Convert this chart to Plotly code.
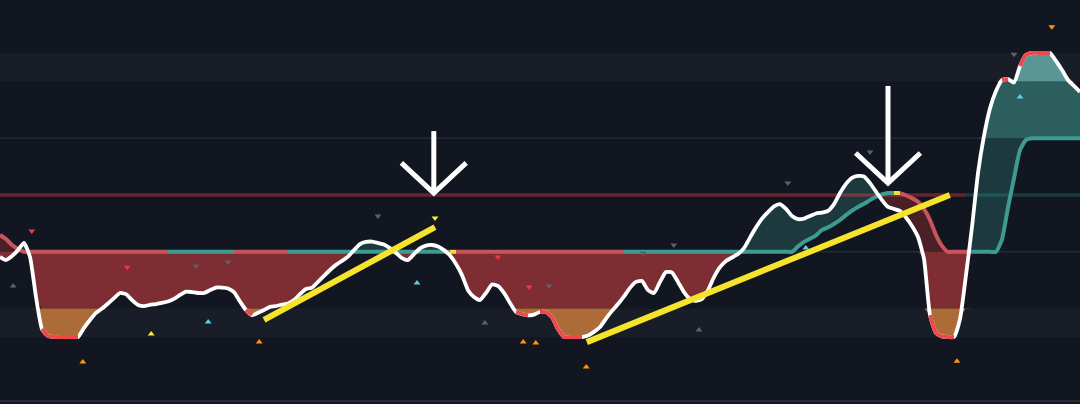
import numpy as np
import plotly.graph_objects as go

# ---------------- data ----------------
osc = [28.2, 27.1, 28.5, 30.6, 33.1, 28.2, 14.1, 2.8, 0.4, 0, 0, 0, 0, 0, 3.2, 6.0, 8.5, 10.0, 11.8, 13.7,
       15.5, 15.1, 13.0, 11.3, 10.9, 11.3, 11.6, 12.0, 12.5, 13.4, 14.8, 16.0, 15.8, 15.5, 15.5, 16.5, 17.4, 17.4, 17.1, 15.8,
       12.5, 9.5, 7.7, 8.5, 9.5, 10.6, 10.9, 11.4, 11.8, 13.0, 15.1, 16.9, 17.4, 19.4, 21.5, 23.6, 25.4, 26.8, 28.3, 30.6,
       32.7, 33.5, 33.6, 33.1, 32.6, 31.3, 29.6, 27.8, 27.1, 29.2, 31.2, 32.2, 32.4, 31.9, 30.6, 28.7, 25.7, 21.8, 16.5, 14.1,
       13.0, 15.5, 18.5, 18.0, 15.5, 12.0, 8.8, 8.1, 7.6, 7.9, 8.8, 8.8, 7.0, 2.8, 0, 0, 0, 0, 0.5, 1.8,
       3.5, 6.5, 9.2, 11.6, 14.3, 17.3, 19.4, 19.7, 16.5, 15.5, 19.4, 22.9, 22.7, 19.4, 15.8, 13.4, 12.7, 13.4, 16.5, 21.1,
       24.6, 26.8, 28.0, 29.2, 31.3, 35.0, 38.6, 41.7, 44.0, 46.0, 46.8, 45.1, 42.6, 41.5, 41.7, 42.6, 43.5, 43.8, 44.4, 46.8,
       50.7, 53.9, 56.0, 56.7, 56.5, 54.2, 51.2, 48.2, 45.8, 45.1, 44.4, 42.1, 39.1, 35.2, 27.5, 7.7, 1.4, 0.2, 0, 0,
       6.3, 21.8, 38.7, 57.7, 70.8, 80.5, 86.6, 90.5, 90.8, 89.6, 95.4, 99.3, 100, 100, 100, 100, 97.2, 94.0, 90.5, 88.4,
       86.3]

signal = [35.9, 34.5, 32.4, 31.0] + [30.0] * 129 + [
    31.9, 33.5, 34.6, 35.8, 37.7, 38.6, 39.8, 41.2, 42.9, 44.5, 45.8, 46.9, 48.2, 49.4, 50.2, 50.7, 50.7, 50.7,
    49.9, 48.9, 47.6, 45.1, 41.2, 35.9, 32.1] + [30.0] * 9 + [34.4, 45.6, 55.9, 65.8, 69.4] + [70.0] * 9

state_runs = [("bear", 29), ("bull", 11), ("bear", 9), ("bull", 27), ("neutral", 1),
              ("bear", 28), ("bull", 45), ("neutral", 1), ("bear", 12), ("bull", 18)]

mid_state_runs = [("bear", 161), ("bull", 20)]

level_ob_top, level_ob, level_up, level_mid, level_low, level_os, level_os_bot = 100, 90, 70, 50, 30, 10, 0

tri_x = [5.3, 2.2, 21.2, 32.7, 38.0, 34.7, 25.2, 13.8, 43.2, 63.0, 72.5, 69.5, 83.0, 88.2, 91.5, 80.8, 87.2, 89.3,
         97.7, 112.3, 116.5, 131.3, 145.0, 134.3, 159.5, 175.3, 169.0, 170.0, 107.2]
tri_y = [37.3, 18.0, 24.6, 25.0, 26.4, 5.3, 1.1, -8.8, -1.8, 42.6, 41.9, 19.0, 28.2, 17.6, 18.0, 4.9, -1.8, -2.1,
         -10.6, 32.4, 2.5, 54.2, 65.1, 31.3, -8.5, 109.2, 99.6, 84.5, 29.6]
tri_dir = ["dn", "up", "dn", "dn", "dn", "up", "up", "up", "up", "dn", "dn", "up", "dn", "dn", "dn", "up", "up", "up",
           "up", "dn", "up", "dn", "dn", "up", "up", "dn", "dn", "up", "dn"]
tri_kind = ["red", "grey", "red", "grey", "grey", "cyan", "yellow", "orange", "orange", "grey", "yellow", "cyan",
            "red", "red", "grey", "grey", "orange", "orange", "orange", "grey", "grey", "grey", "grey", "cyan",
            "orange", "orange", "grey", "cyan", "grey"]

trend1_x, trend1_y = [44.0, 72.5], [6.0, 38.7]
trend2_x, trend2_y = [97.8, 158.3], [-1.8, 50.0]

arrow_x = [72.3, 148.0]
arrow_top = [72.5, 88.4]
arrow_tip = [50.7, 54.2]

# ---------------- figure ----------------
BG = "#121620"
N = len(osc)
x = np.arange(N)
w = np.array(osc, float)
s = np.array(signal, float)
SM = 0.5  # spline smoothing

fig = go.Figure()


def runs_xy(mask, xs, ys):
    X, Y = [], []
    i = 1
    while i < N:
        if mask[i]:
            j = i
            while j + 1 < N and mask[j + 1]:
                j += 1
            X += list(xs[i - 1:j + 1]) + [None]
            Y += list(ys[i - 1:j + 1]) + [None]
            i = j + 1
        else:
            i += 1
    return X, Y


def band(lo_arr, hi_arr, lo, hi, color):
    b = np.clip(lo_arr, lo, hi)
    t = np.clip(hi_arr, lo, hi)
    fig.add_trace(go.Scatter(x=x, y=b, mode="lines", line=dict(width=0, shape="spline", smoothing=SM),
                             hoverinfo="skip"))
    fig.add_trace(go.Scatter(x=x, y=t, mode="lines", line=dict(width=0, shape="spline", smoothing=SM),
                             fill="tonexty", fillcolor=color, hoverinfo="skip"))


# bearish fills (oscillator under signal)
bear_lo, bear_hi = np.minimum(w, s), s
band(bear_lo, bear_hi, level_low, 300, "#4a1f27")
band(bear_lo, bear_hi, level_os, level_low, "#7e2d33")
band(bear_lo, bear_hi, -300, level_os, "#ad6b37")
# bullish fills (oscillator over signal)
bull_lo, bull_hi = s, np.maximum(w, s)
band(bull_lo, bull_hi, -300, level_up, "#1c3a3d")
band(bull_lo, bull_hi, level_up, level_ob, "#2c5e5e")
band(bull_lo, bull_hi, level_ob, 300, "#5a9696")

# mid (50) line coloured by state
mid_colors = {"bear": "rgba(242,60,70,0.38)", "bull": "rgba(38,166,154,0.25)"}
start = 0
for name, n in mid_state_runs:
    end = min(start + n, N - 1)
    fig.add_trace(go.Scatter(x=[start, end], y=[level_mid, level_mid], mode="lines",
                             line=dict(color=mid_colors[name], width=3.5), hoverinfo="skip"))
    start = end

# signal line coloured by state
state = []
for name, n in state_runs:
    state += [name] * n
sig_colors = {"bear": "#c9545a", "bull": "#3e9b92", "neutral": "#f2dc3c"}
for name, col in sig_colors.items():
    mask = [False] + [state[i] == name for i in range(1, N)]
    X, Y = runs_xy(mask, x, s)
    fig.add_trace(go.Scatter(x=X, y=Y, mode="lines",
                             line=dict(color=col, width=4, shape="spline", smoothing=SM), hoverinfo="skip"))

# oscillator
fig.add_trace(go.Scatter(x=x, y=w, mode="lines",
                         line=dict(color="#ffffff", width=3.8, shape="spline", smoothing=SM), hoverinfo="skip"))
hot = [False] + [((w[i] < level_os and w[i - 1] < level_os and w[i] <= w[i - 1]) or
                  (w[i] > level_ob and w[i - 1] > level_ob and w[i] >= w[i - 1])) for i in range(1, N)]
X, Y = runs_xy(hot, x, w)
fig.add_trace(go.Scatter(x=X, y=Y, mode="lines",
                         line=dict(color="#f0474c", width=3.8, shape="spline", smoothing=SM), hoverinfo="skip"))

# small triangle signals
kind_col = {"grey": "#5d606b", "red": "#f23645", "orange": "#ff9800", "yellow": "#ffeb3b", "cyan": "#5ad1dc"}
for d, sym in (("up", "triangle-up"), ("dn", "triangle-down")):
    idx = [i for i in range(len(tri_x)) if tri_dir[i] == d]
    fig.add_trace(go.Scatter(x=[tri_x[i] for i in idx], y=[tri_y[i] for i in idx], mode="markers",
                             marker=dict(symbol=sym, size=6, color=[kind_col[tri_kind[i]] for i in idx],
                                         line=dict(width=0)), hoverinfo="skip"))

# trend lines
for tx, ty in ((trend1_x, trend1_y), (trend2_x, trend2_y)):
    fig.add_trace(go.Scatter(x=tx, y=ty, mode="lines", line=dict(color="#f5e32c", width=6), hoverinfo="skip"))

# arrows
head_dx, head_dy = 5.4, 10.6
for ax, at, tip in zip(arrow_x, arrow_top, arrow_tip):
    fig.add_trace(go.Scatter(x=[ax, ax, None, ax - head_dx, ax, ax + head_dx],
                             y=[at, tip, None, tip + head_dy, tip, tip + head_dy],
                             mode="lines", line=dict(color="#ffffff", width=5), hoverinfo="skip"))

shapes = [
    dict(type="rect", xref="paper", x0=0, x1=1, yref="y", y0=level_ob, y1=level_ob_top,
         fillcolor="#191d28", line=dict(width=0), layer="below"),
    dict(type="rect", xref="paper", x0=0, x1=1, yref="y", y0=level_os_bot, y1=level_os,
         fillcolor="#191d28", line=dict(width=0), layer="below"),
    dict(type="line", xref="paper", x0=0, x1=1, yref="y", y0=level_up, y1=level_up,
         line=dict(color="#242834", width=1.5), layer="below"),
    dict(type="line", xref="paper", x0=0, x1=1, yref="y", y0=level_low, y1=level_low,
         line=dict(color="#242834", width=1.5), layer="below"),
    dict(type="line", xref="paper", x0=0, x1=1, yref="y", y0=-22.5, y1=-22.5,
         line=dict(color="#262a35", width=2), layer="below"),
]

fig.update_layout(
    width=1080, height=404, margin=dict(l=0, r=0, t=0, b=0),
    paper_bgcolor=BG, plot_bgcolor=BG, showlegend=False, shapes=shapes,
    xaxis=dict(range=[0, 180], visible=False, fixedrange=True),
    yaxis=dict(range=[-23.59, 118.66], visible=False, fixedrange=True),
)

fig.write_html("out.html")
